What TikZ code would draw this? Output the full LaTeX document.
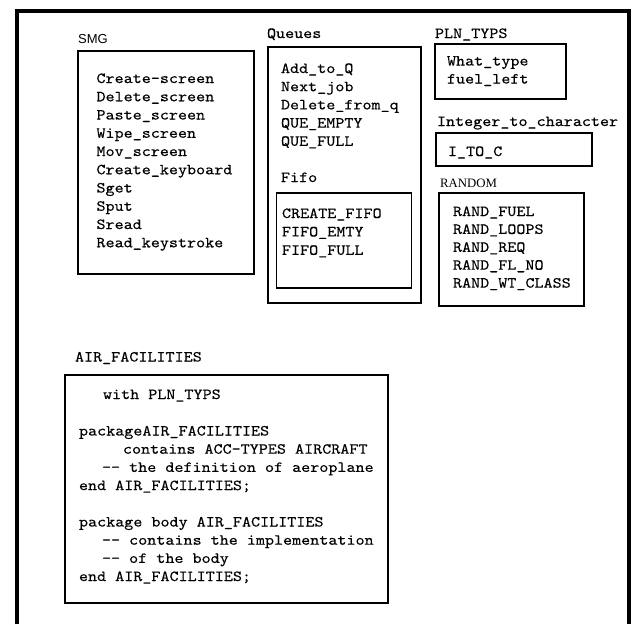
\documentclass[tikz,border=0pt]{standalone}
\usepackage{fontspec}
\newfontfamily\cour{lmmono10-regular}[Extension=.otf, FakeStretch=1.12, FakeBold=0.3]
\newfontfamily\labsans{Liberation Sans}
\newfontfamily\labserif{Liberation Serif}
\begin{document}
\begin{tikzpicture}[x=1pt,y=-1pt,
  txt/.style={anchor=base west, inner sep=0pt, outer sep=0pt, font=\fontsize{15.4}{18}\selectfont\cour},
  sanslab/.style={anchor=base west, inner sep=0pt, font=\fontsize{13}{15}\selectfont\labsans},
  seriflab/.style={anchor=base west, inner sep=0pt, font=\fontsize{12.8}{15}\selectfont\labserif},
  box/.style={draw, line width=1.3pt, inner sep=0pt, outer sep=0pt, anchor=north west, rectangle},
  frameline/.style={line width=4pt, line join=miter}]
\useasboundingbox (0,0) rectangle (636,624);

% outer frame
\coordinate (fbl) at (17,624);
\coordinate (ftl) at (17,11);
\coordinate (ftr) at (629,11);
\coordinate (fbr) at (629,624);
\draw[frameline] (fbl) -- (ftl) -- (ftr) -- (fbr);

% SMG
\node[sanslab] (smglab) at (78,43) {SMG};
\node[box, minimum width=176pt, minimum height=223pt] (smgbox) at (78,51) {};
\foreach \t [count=\i from 0] in {Create-screen, Delete\_screen, Paste\_screen, Wipe\_screen, Mov\_screen, Create\_keyboard, Sget, Sput, Sread, Read\_keystroke}
  \node[txt] (smg\i) at (96.5,{83+18.25*\i}) {\t};

% Queues
\node[txt] (queueslab) at (267,38) {Queues};
\node[box, minimum width=153pt, minimum height=256pt] (queuesbox) at (268,47) {};
\foreach \t [count=\i from 0] in {Add\_to\_Q, Next\_job, Delete\_from\_q, QUE\_EMPTY, QUE\_FULL}
  \node[txt] (que\i) at (281,{73+18.2*\i}) {\t};
\node[txt] (fifolab) at (281,182) {Fifo};
\node[box, minimum width=135pt, minimum height=95pt] (fifobox) at (276.5,193) {};
\foreach \t [count=\i from 0] in {CREATE\_FIFO, FIFO\_EMTY, FIFO\_FULL}
  \node[txt] (fifo\i) at (282,{218+18.4*\i}) {\t};

% PLN_TYPS
\node[txt] (plnlab) at (435,38) {PLN\_TYPS};
\node[box, minimum width=131pt, minimum height=55pt] (plnbox) at (435,44) {};
\node[txt] (pln0) at (447,65.5) {What\_type};
\node[txt] (pln1) at (447,83.5) {fuel\_left};

% Integer_to_character
\node[txt] (itclab) at (437,126) {Integer\_to\_character};
\node[box, minimum width=156pt, minimum height=33pt] (itcbox) at (436,133) {};
\node[txt] (itc0) at (448,156) {I\_TO\_C};

% RANDOM
\node[seriflab] (randlab) at (440,187) {RANDOM};
\node[box, minimum width=145pt, minimum height=113pt] (randbox) at (439,193) {};
\foreach \t [count=\i from 0] in {RAND\_FUEL, RAND\_LOOPS, RAND\_REQ, RAND\_FL\_NO, RAND\_WT\_CLASS}
  \node[txt] (rand\i) at (453,{216+17.9*\i}) {\t};

% AIR_FACILITIES
\node[txt] (airlab) at (75,361.5) {AIR\_FACILITIES};
\node[box, minimum width=323pt, minimum height=228pt] (airbox) at (65,375) {};
\foreach \x/\y/\t [count=\i] in {
  103/399/with PLN\_TYPS,
  79/435.5/packageAIR\_FACILITIES,
  123/453.7/contains ACC-TYPES AIRCRAFT,
  102/471.9/-- the definition of aeroplane,
  79/490.1/end AIR\_FACILITIES;,
  79/526.5/package body AIR\_FACILITIES,
  102/544.7/-- contains the implementation,
  102/562.9/-- of the body,
  79/581/end AIR\_FACILITIES;}
  \node[txt] (air\i) at (\x,\y) {\t};
\end{tikzpicture}
\end{document}
